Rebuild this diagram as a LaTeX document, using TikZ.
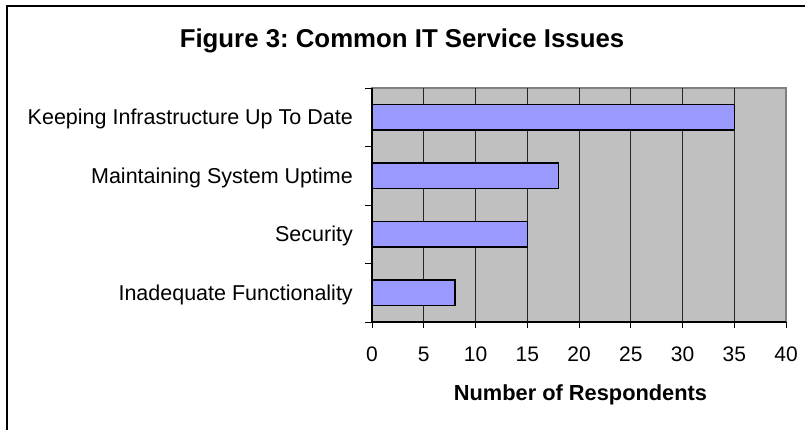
\documentclass[tikz,border=0pt]{standalone}
\usepackage{fontspec}
\setmainfont{Liberation Sans}
\frenchspacing
\definecolor{plotbg}{HTML}{C0C0C0}
\definecolor{barfill}{HTML}{9999FF}
\definecolor{plotedge}{HTML}{808080}
\begin{document}
\begin{tikzpicture}[x=1pt,y=-1pt,
  frame/.style={line width=1.8pt,black},
  plotarea/.style={fill=plotbg,draw=plotedge,line width=1.2pt},
  gridline/.style={line width=1pt,black!85},
  axisline/.style={line width=1.2pt,black},
  tickmark/.style={line width=1pt,black},
  bar/.style={fill=barfill,draw=black,line width=1.4pt},
  titletext/.style={font=\fontsize{25.8}{30}\selectfont\bfseries,inner sep=0pt},
  cattext/.style={font=\fontsize{21.5}{25}\selectfont,inner sep=0pt,anchor=base east},
  ticktext/.style={font=\fontsize{21}{24}\selectfont,inner sep=0pt,anchor=base},
  axistitle/.style={font=\fontsize{21.8}{25}\selectfont\bfseries,inner sep=0pt,anchor=base}]
\useasboundingbox (0,0) rectangle (805,429);
\fill[white] (0,0) rectangle (805,429);

% outer chart frame (runs off the right and bottom of the page)
\draw[frame] (7,440) -- (7,6) -- (820,6);

% title
\node[titletext,anchor=base] (title) at (402,47.5) {Figure 3: Common IT Service Issues};

% plot area: x from 0 to 40 maps to 372..786, y from 88 to 322
\def\xo{372}
\def\xs{10.35}
\draw[plotarea] (372,88) rectangle (786,322);

% vertical grid lines
\foreach \v in {5,10,...,35}
  \draw[gridline] ({\xo+\v*\xs},88) -- ({\xo+\v*\xs},322);

% axes
\draw[axisline] (372,88) -- (372,322) -- (786,322);

% category ticks
\foreach \yy in {88,146.5,205,263.5,322}
  \draw[tickmark] (365,\yy) -- (372,\yy);

% value ticks and labels
\foreach \v in {0,5,...,40}{
  \draw[tickmark] ({\xo+\v*\xs},322) -- ({\xo+\v*\xs},328);
  \node[ticktext] (t\v) at ({\xo+\v*\xs},361) {\v};
}

% bars
\foreach \val/\yc/\nm in {35/117.25/b1,18/175.75/b2,15/234.25/b3,8/292.75/b4}
  \draw[bar] (\xo,\yc-12.75) rectangle ({\xo+\val*\xs},\yc+12.75);

% category labels
\node[cattext] (c1) at (353,124.75) {Keeping Infrastructure Up To Date};
\node[cattext] (c2) at (353,183.25) {Maintaining System Uptime};
\node[cattext] (c3) at (353,241.75) {Security};
\node[cattext] (c4) at (353,300.25) {Inadequate Functionality};

% axis title
\node[axistitle] (xlab) at (580.5,400) {Number of Respondents};
\end{tikzpicture}
\end{document}
